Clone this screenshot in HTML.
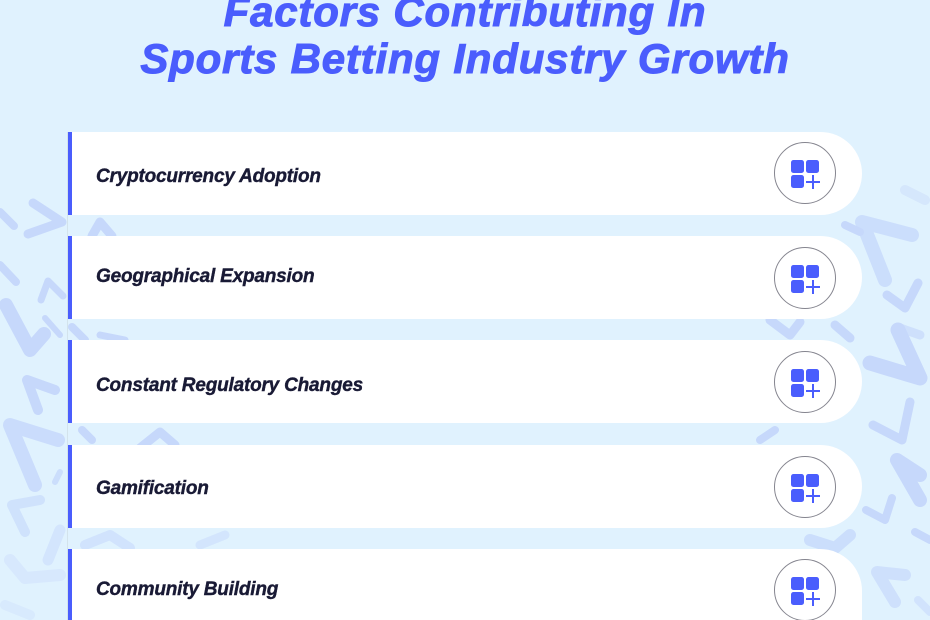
<!DOCTYPE html>
<html>
<head>
<meta charset="utf-8">
<style>
  html,body{margin:0;padding:0;width:930px;height:620px;overflow:hidden;}
  body{background:#e0f2fe;position:relative;font-family:"Liberation Sans",sans-serif;}
  .bg{position:absolute;left:0;top:0;}
  .strip{position:absolute;left:67px;top:132px;width:1px;height:488px;background:#d3e3ec;}
  .title{position:absolute;left:0;top:-12px;width:930px;text-align:center;color:#4a5dfd;font-weight:bold;font-style:italic;font-size:42px;line-height:47px;letter-spacing:0.8px;white-space:nowrap;-webkit-text-stroke:1px #4a5dfd;}
  .card{position:absolute;left:68px;width:794px;height:83px;background:#fff;border-radius:0 42px 42px 0;overflow:hidden;}
  .card .bar{position:absolute;left:0;top:0;width:4px;height:100%;background:#4a5dfd;}
  .card .txt{position:absolute;left:28px;font-size:19px;font-weight:bold;font-style:italic;color:#191a35;white-space:nowrap;line-height:22px;letter-spacing:-0.2px;-webkit-text-stroke:0.4px #191a35;}
  .circ{position:absolute;width:60px;height:60px;border:1px solid #85858f;border-radius:50%;left:706px;}
  .sq{position:absolute;width:13px;height:13px;background:#4a5dfd;border-radius:2.5px;}
  .ph{position:absolute;background:#4a5dfd;}
</style>
</head>
<body>
<svg class="bg" width="930" height="620" viewBox="0 0 930 620">
  <g fill="none" stroke="#c6d8fb" stroke-linecap="round" stroke-linejoin="round">
    <!-- left -->
    <path d="M33,203 L62,222 L28,234" stroke-width="9"/>
    <path d="M0,212 L14,226" stroke-width="8"/>
    <path d="M0,265 L16,282" stroke-width="8"/>
    <path d="M63,296 L48,281 L41,300" stroke-width="7"/>
    <path d="M6,305 L30,350 L44,334" stroke-width="14"/>
    <path d="M60,335 L45,318" stroke-width="6"/>
    <path d="M55,390 L27,380 L38,410" stroke-width="10"/>
    <path d="M58,440 L10,425 L35,485" stroke-width="14" opacity="0.85"/>
    <path d="M60,472 L55,482" stroke-width="6" opacity="0.8"/>
    <path d="M40,500 L12,505 L25,532" stroke-width="10" opacity="0.65"/>
    <path d="M60,530 L48,560" stroke-width="11" opacity="0.5"/>
    <path d="M10,560 L25,578 L60,575" stroke-width="12" opacity="0.35"/>
    <path d="M5,605 L30,615" stroke-width="10" opacity="0.3"/>
    <!-- gaps left -->
    <path d="M92,236 L100,222 L112,236" stroke-width="9"/>
    <path d="M72,327 L85,340" stroke-width="8"/>
    <path d="M100,335 L125,340" stroke-width="7"/>
    <path d="M82,430 L92,440" stroke-width="8"/>
    <path d="M140,448 L160,432 L175,445" stroke-width="9"/>
    <path d="M85,545 L110,535 L130,548" stroke-width="10" opacity="0.6"/>
    <path d="M200,545 L225,535" stroke-width="9" opacity="0.5"/>
    <!-- right -->
    <path d="M905,190 L925,200" stroke-width="10" opacity="0.4"/>
    <path d="M912,235 L862,222 L885,280" stroke-width="14" opacity="0.8"/>
    <path d="M887,295 L905,308 L918,283" stroke-width="9"/>
    <path d="M920,335 L900,328" stroke-width="9" opacity="0.7"/>
    <path d="M870,363 L920,378 L898,330" stroke-width="15"/>
    <path d="M873,425 L902,440 L910,402" stroke-width="9"/>
    <path d="M920,475 L897,460 L920,500" stroke-width="14"/>
    <path d="M866,510 L885,520 L892,498" stroke-width="8"/>
    <path d="M915,532 L930,540" stroke-width="8"/>
    <path d="M905,575 L877,572 L895,602" stroke-width="12" opacity="0.7"/>
    <path d="M918,600 L930,612" stroke-width="8" opacity="0.6"/>
    <!-- gaps right -->
    <path d="M770,320 L790,335 L800,322" stroke-width="9"/>
    <path d="M835,325 L850,338" stroke-width="9"/>
    <path d="M810,540 L835,548 L850,535" stroke-width="12" opacity="0.8"/>
    <path d="M760,440 L775,430" stroke-width="8"/>
    <path d="M845,225 L860,232" stroke-width="8"/>
  </g>
</svg>
<div class="strip"></div>

<div class="title">Factors Contributing In<br>Sports Betting Industry Growth</div>

<div class="card" style="top:132px;">
  <div class="bar"></div>
  <div class="txt" style="top:34px;">Cryptocurrency Adoption</div>
  <div class="circ" style="top:10px;"></div>
</div>
<div class="card" style="top:236px;">
  <div class="bar"></div>
  <div class="txt" style="top:30px;">Geographical Expansion</div>
  <div class="circ" style="top:11px;"></div>
</div>
<div class="card" style="top:340px;">
  <div class="bar"></div>
  <div class="txt" style="top:35px;">Constant Regulatory Changes</div>
  <div class="circ" style="top:11px;"></div>
</div>
<div class="card" style="top:445px;">
  <div class="bar"></div>
  <div class="txt" style="top:33px;">Gamification</div>
  <div class="circ" style="top:11px;"></div>
</div>
<div class="card" style="top:549px;height:71px;border-radius:0 42px 0 0;">
  <div class="bar"></div>
  <div class="txt" style="top:30px;">Community Building</div>
  <div class="circ" style="top:10px;"></div>
</div>

<div style="position:absolute;left:0;top:0;">
  <div class="sq" style="left:791px;top:160px;"></div>
  <div class="sq" style="left:806px;top:160px;"></div>
  <div class="sq" style="left:791px;top:175px;"></div>
  <div class="ph" style="left:806px;top:181px;width:14px;height:1.6px;"></div>
  <div class="ph" style="left:812.2px;top:175px;width:1.6px;height:14px;"></div>

  <div class="sq" style="left:791px;top:265px;"></div>
  <div class="sq" style="left:806px;top:265px;"></div>
  <div class="sq" style="left:791px;top:280px;"></div>
  <div class="ph" style="left:806px;top:286px;width:14px;height:1.6px;"></div>
  <div class="ph" style="left:812.2px;top:280px;width:1.6px;height:14px;"></div>

  <div class="sq" style="left:791px;top:369px;"></div>
  <div class="sq" style="left:806px;top:369px;"></div>
  <div class="sq" style="left:791px;top:384px;"></div>
  <div class="ph" style="left:806px;top:390px;width:14px;height:1.6px;"></div>
  <div class="ph" style="left:812.2px;top:384px;width:1.6px;height:14px;"></div>

  <div class="sq" style="left:791px;top:474px;"></div>
  <div class="sq" style="left:806px;top:474px;"></div>
  <div class="sq" style="left:791px;top:489px;"></div>
  <div class="ph" style="left:806px;top:495px;width:14px;height:1.6px;"></div>
  <div class="ph" style="left:812.2px;top:489px;width:1.6px;height:14px;"></div>

  <div class="sq" style="left:791px;top:577px;"></div>
  <div class="sq" style="left:806px;top:577px;"></div>
  <div class="sq" style="left:791px;top:592px;"></div>
  <div class="ph" style="left:806px;top:598px;width:14px;height:1.6px;"></div>
  <div class="ph" style="left:812.2px;top:592px;width:1.6px;height:14px;"></div>
</div>
</body>
</html>
